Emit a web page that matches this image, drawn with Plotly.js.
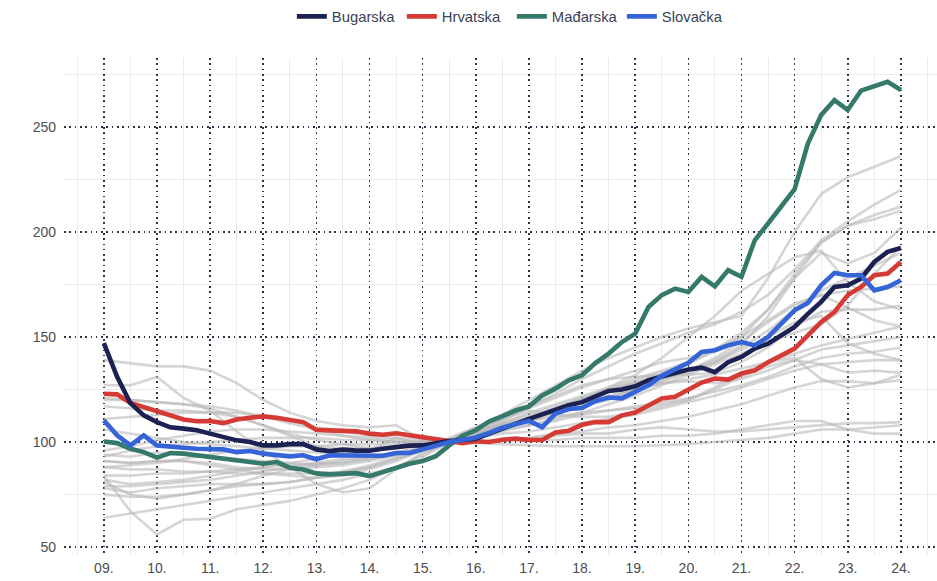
<!DOCTYPE html>
<html>
<head>
<meta charset="utf-8">
<script src="https://cdn.plot.ly/plotly-3.0.1.min.js"></script>
<style>html,body{margin:0;padding:0;background:#fff;}#chart{width:937px;height:581px;}</style>
</head>
<body>
<div id="chart"></div>
<script>
// Quarterly index (2015 = 100), 2009 Q1 ... 2024 Q1
const bugarska = [
  147.1, 131, 118.5, 112.7,
  109.5, 107, 106.4, 105.6,
  104, 102.4, 100.8, 100,
  98.4, 98.4, 99, 99,
  96.5, 95.7, 96.4, 95.9,
  95.9, 96.8, 97.7, 98.3,
  98.4, 99.5, 100.5, 101,
  101.6, 104, 106.4, 109,
  111, 113.2, 115.4, 117.5,
  119, 121.4, 124.3, 125,
  126.5, 129.4, 131.3, 132.9,
  134.5, 135.4, 133.3, 138,
  140.5, 144.5, 146.8, 150.8,
  154.8, 161, 166.7, 173.8,
  174.6, 177.8, 185.7, 190.5,
  192.3
];
const hrvatska = [
  123, 122.7, 118.6, 116.7,
  114.6, 112.4, 110.7, 109.9,
  110, 109, 110.7, 111.6,
  112.2, 111.6, 110.3, 109.5,
  105.8, 105.6, 104.9, 105.1,
  104, 103.5, 104.2, 103.2,
  102.3, 101.1, 100, 99.5,
  100.4, 100, 101.1, 101.6,
  101, 101, 104.6, 105.4,
  108.2, 109.5, 109.5, 112.7,
  114, 117.5, 120.7, 121.5,
  125, 128.3, 130.2, 129.7,
  132.6, 134.1, 138, 141.3,
  144.5, 150.8, 157.1, 161.9,
  169.9, 173.8, 179.4, 180.2,
  185.7
];
const madarska = [
  100.3, 99.5, 96.8, 95.2,
  92.6, 94.8, 94.5, 93.7,
  92.4, 92.1, 91.3, 90.2,
  89.7, 90.5, 87.8, 86.9,
  85.1, 84.6, 85, 85.2,
  83.8, 85.7, 87.8, 89.7,
  91, 93.3, 98.4, 103,
  105.6, 109.8, 112.3, 115,
  117, 122.2, 125.4, 129.4,
  131.8, 137.6, 142.1, 147.6,
  151.6, 164.3, 169.9, 173,
  171.4, 178.6, 174.1, 181.8,
  178.6, 196, 204, 211.9,
  220.3, 242, 255.6, 262.7,
  258, 267.2, 269.4, 271.4,
  267.5
];
const slovacka = [
  110.3, 103.2, 98.4, 103.2,
  98.4, 97.6, 97.3, 96.8,
  96.5, 96.5, 95.2, 95.7,
  94.5, 94.1, 93.2, 93.7,
  91.8, 93.7, 93.7, 93.7,
  93.6, 93.5, 94.8, 94.8,
  96.5, 98.2, 100, 101,
  102.2, 104.4, 106.8, 108.6,
  110, 107.1, 113.5, 115.7,
  116.2, 119.5, 121.2, 120.8,
  123.8, 127, 131.5, 134.6,
  137.7, 142.9, 143.7, 146,
  147.6, 146, 150, 156.4,
  162.7, 166.2, 174.6, 180.5,
  179.4, 179.4, 172.2, 173.8,
  177
];

// Other EU member states (grey), half-yearly readings 2009.0 ... 2024.0
const g01 = [139,137.5,136,136,134,128,120,114,110,108,107,108,101,100,103,106,110,113,117,121,125,128,129,128,130,134,139,144,146,148,150];
const g02 = [127,127,131,121,115,105,96,88,80,76,78,87,95,100,105,110,117,122,127,130,131,132,132,133,138,145,155,162,163,163,165];
const g03 = [121,120,119,118,116,112,108,103,98,97,97,98,99,101,104,107,111,115,120,125,129,133,137,144,152,163,178,190,185,190,202];
const g04 = [117,116,115,115,114,112,108,104,101,99,97,98,99,101,103,107,111,116,121,125,128,131,134,138,145,153,163,172,178,184,190];
const g05 = [106,104,102,100,99,98,97,96,95,95,96,102,99,100,103,106,108,110,113,115,117,119,121,124,127,131,136,140,142,143,145];
const g06 = [93,96,98,99,100,101,102,102,102,101,101,100,100,100,100,101,101,101,102,102,102,103,103,104,106,108,110,110,106,104,104];
const g07 = [111,112,113,114,114,114,112,110,107,105,103,102,101,100,99.5,99,98.5,98,98,98,98,98.5,99,100,101,102,104,106,106,107,108];
const g08 = [120,120,119,118,117,115,112,109,106,103,101,100,100,100,100,101,102,103,104,104,106,107,106,105,105,106,107,108,109,109,109.5];
const g09 = [96,98,101,103,105,106,106,105,104,103,102,101,100,100,100,101,102,104,105,107,108,110,112,115,118,122,126,129,129,128,129.4];
const g10 = [91,90,91,91,90,88,87,87,88,89,91,94,97,101,104,107,110,112,114,115,116,118,120,125,131,136,139,137,133,134,133];
const g11 = [88,89,90,92,94,96,97,98,98,99,99,99,99,100,102,104,105,107,109,111,113,116,119,122,126,130,134,137,138,139,139];
const g12 = [79,79,80,81,82,84,86,88,90,92,93,95,98,101,104,108,111,115,119,122,125,129,133,138,144,150,157,160,147,142,139];
const g13 = [75,74,74,75,77,80,84,87,89,91,93,95,97,101,105,108,111,114,117,120,124,129,134,140,148,157,165,170,164,158,155];
const g14 = [78,76,78,79,80,80,80,81,83,86,89,93,97,102,107,111,115,113,112,112,114,117,120,126,133,138,140,130,126,128,132];
const g15 = [82,80,81,82,84,86,88,90,92,94,96,98,99,101,104,108,112,116,120,126,132,140,150,160,172,180,188,191,176,167,163];
const g16 = [84,84,85,85,86,87,88,89,90,90,92,94,97,101,104,108,111,115,118,121,125,128,130,132,135,138,142,146,149,152,155];
const g17 = [94,93,95,94,93,92,91,90,89,90,92,94,97,101,103,105,108,111,114,118,122,127,132,137,142,148,152,156,165,180,193];
const g18 = [91,90,91,91,89,87,85,84,83,84,87,91,96,101,106,111,117,123,130,136,142,147,152,156,162,170,182,196,205,213,220];
const g19 = [88,87,87,86,86,85,85,85,85,86,88,92,96,101,107,113,120,127,134,140,145,150,154,157,160,178,200,218,226,231,236];
const g20 = [81,75,73,75,77,79,80,81,83,85,88,92,96,101,105,109,114,118,122,126,130,134,138,143,150,163,180,195,203,208,212];
const g21 = [64,66,68,70,72,74,76,78,80,82,85,88,93,100,105,109,113,117,121,125,128,131,134,139,146,160,178,195,203,206,210];
const g22 = [84,67,56,63,63.5,68,70,72,75,78,82,88,94,100,106,111,116,121,126,130,134,138,140,144,150,158,166,170,172,173,174];

const yearTicks = [2009,2010,2011,2012,2013,2014,2015,2016,2017,2018,2019,2020,2021,2022,2023,2024];
const yearLabels = ['09.','10.','11.','12.','13.','14.','15.','16.','17.','18.','19.','20.','21.','22.','23.','24.'];
const yTicks = [50,100,150,200,250];

const tq = bugarska.map((_, i) => 2009 + i / 4);
const th = g01.map((_, i) => 2009 + i / 2);

const greys = [g01,g02,g03,g04,g05,g06,g07,g08,g09,g10,g11,g12,g13,g14,g15,g16,g17,g18,g19,g20,g21,g22];
const traces = greys.map(g => ({
  x: th, y: g, type: 'scatter', mode: 'lines', showlegend: false, hoverinfo: 'skip',
  line: {color: 'rgba(185,185,185,0.6)', width: 2.6}
}));

const hl = [
  {name: 'Hrvatska', y: hrvatska, color: '#d63a35', rank: 2},
  {name: 'Mađarska', y: madarska, color: '#35796a', rank: 3},
  {name: 'Bugarska', y: bugarska, color: '#1b2152', rank: 1},
  {name: 'Slovačka', y: slovacka, color: '#3563d8', rank: 4}
];
hl.forEach(h => traces.push({
  x: tq, y: h.y, type: 'scatter', mode: 'lines', name: h.name, legendrank: h.rank,
  line: {color: h.color, width: 4.6}
}));

const dotGrid = {gridcolor: '#2c3245', griddash: '1.6px,3.7px', gridwidth: 1.6};
const minorGrid = {showgrid: true, gridcolor: '#ebebeb', gridwidth: 1, griddash: 'solid', ticks: ''};

const layout = {
  width: 937, height: 581,
  margin: {l: 64, r: 0, t: 58, b: 26, pad: 0},
  paper_bgcolor: '#ffffff', plot_bgcolor: '#ffffff',
  font: {family: 'Liberation Sans, Arial, sans-serif', size: 14, color: '#4d4d4d'},
  showlegend: true,
  legend: {orientation: 'h', x: 0.513, xanchor: 'center', y: 1.083, yanchor: 'middle',
           font: {size: 14.8, color: '#3a4256'}, itemwidth: 30, tracegroupgap: 0,
           entrywidth: 65, entrywidthmode: 'pixels'},
  xaxis: Object.assign({
    range: [2008.25, 2024.68], tickmode: 'array', tickvals: yearTicks, ticktext: yearLabels,
    showgrid: true, zeroline: false, showline: false, ticks: '', ticklabelstandoff: 3,
    tickfont: {size: 14, color: '#4d4d4d'},
    minor: Object.assign({tickmode: 'array', tickvals: yearTicks.map(y => y - 0.5).concat([2024.5])}, minorGrid)
  }, dotGrid),
  yaxis: Object.assign({
    range: [46.25, 282.75], tickmode: 'array', tickvals: yTicks,
    showgrid: true, zeroline: false, showline: false, ticks: '', ticklabelstandoff: 7,
    tickfont: {size: 14, color: '#4d4d4d'},
    minor: Object.assign({tickmode: 'array', tickvals: [75,125,175,225,275]}, minorGrid)
  }, dotGrid)
};

Plotly.newPlot('chart', traces, layout, {displayModeBar: false, staticPlot: true});
</script>
</body>
</html>
